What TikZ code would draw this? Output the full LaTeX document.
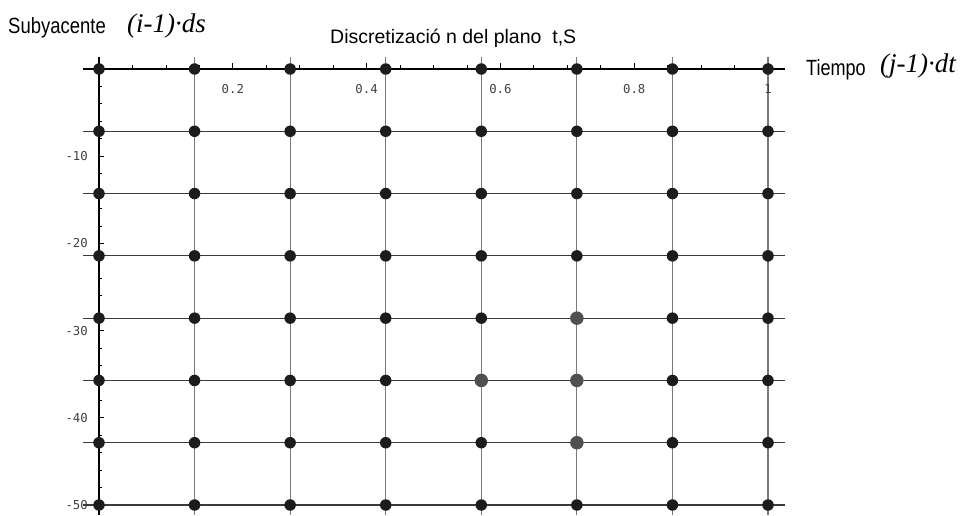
\documentclass[tikz,border=0pt]{standalone}
\usepackage{fontspec}
\setmainfont{Liberation Sans}
\newfontfamily\seriffam{Liberation Serif}
\newfontfamily\tickfam{DejaVu Sans Mono}
\definecolor{hline}{HTML}{3A3A3A}
\definecolor{vline}{HTML}{7A7A7A}
\definecolor{dotblack}{HTML}{1C1C1C}
\definecolor{dotgray}{HTML}{505050}
\definecolor{ticklab}{HTML}{404040}
\begin{document}
\begin{tikzpicture}[x=1pt,y=-1pt,
  dot/.style={circle,fill=dotblack,inner sep=0pt,minimum size=11.5pt},
  graydot/.style={circle,fill=dotgray,inner sep=0pt,minimum size=13.5pt},
  hgrid/.style={draw=hline,line width=1.1pt},
  vgrid/.style={draw=vline,line width=1.1pt},
  axisline/.style={draw=black,line width=1.1pt},
  tickmark/.style={draw=black,line width=0.8pt},
  ticklabel/.style={font=\tickfam\fontsize{12.3}{13}\selectfont,text=ticklab,inner sep=0pt},
  label/.style={font=\fontsize{22}{24}\selectfont,inner sep=0pt},
  italabel/.style={font=\seriffam\itshape\fontsize{27}{30}\selectfont,inner sep=0pt}
]
\useasboundingbox (0,0) rectangle (964,515);
% grid line end coordinates
\foreach \j in {0,...,7}{
  \pgfmathsetmacro{\yy}{69+\j*62.2857}
  \coordinate (hw-\j) at (83,\yy);
  \coordinate (he-\j) at (785,\yy);
}
\foreach \i in {0,...,7}{
  \pgfmathsetmacro{\xx}{99+\i*95.5714}
  \coordinate (vn-\i) at (\xx,57);
  \coordinate (vs-\i) at (\xx,515);
}
% vertical grid lines
\foreach \i in {1,...,7}{ \draw[vgrid] (vn-\i) -- (vs-\i); }
% horizontal grid lines
\foreach \j in {1,...,7}{ \draw[hgrid] (hw-\j) -- (he-\j); }
% axes
\draw[axisline] (hw-0) -- (he-0);
\draw[axisline] (vn-0) -- (vs-0);
% x ticks
\foreach \k in {1,...,20}{
  \pgfmathsetmacro{\xx}{99+\k*33.45}
  \pgfmathtruncatemacro{\m}{mod(\k,4)}
  \ifnum\m=0
    \draw[tickmark] (\xx,69) -- (\xx,63);
  \else
    \draw[tickmark] (\xx,69) -- (\xx,65);
  \fi
}
\foreach \k/\t in {4/0.2,8/0.4,12/0.6,16/0.8,20/1}{
  \node[ticklabel] (xl-\k) at ({99+\k*33.45},89) {\t};
}
% y ticks
\foreach \v in {2,4,...,50}{
  \pgfmathsetmacro{\yy}{69+\v*8.72}
  \pgfmathtruncatemacro{\m}{mod(\v,10)}
  \ifnum\m=0
    \draw[tickmark] (99,\yy) -- (104,\yy);
  \else
    \draw[tickmark] (99,\yy) -- (102,\yy);
  \fi
}
\foreach \v in {10,20,30,40,50}{
  \node[ticklabel,anchor=east] (yl-\v) at (88,{69+\v*8.72}) {-\v};
}
% dots
\foreach \i in {0,...,7}{
  \foreach \j in {0,...,7}{
    \node[dot] (d-\i-\j) at ({99+\i*95.5714},{69+\j*62.2857}) {};
  }
}
\node[graydot] (g-5-4) at (d-5-4) {};
\node[graydot] (g-4-5) at (d-4-5) {};
\node[graydot] (g-5-5) at (d-5-5) {};
\node[graydot] (g-5-6) at (d-5-6) {};
% labels
\node[label,anchor=base west] (sub) at (8,33) {\scalebox{0.84}[1]{Subyacente}};
\node[italabel,anchor=base west] (ids) at (127,32) {(i-1)·ds};
\node[font=\fontsize{19.5}{22}\selectfont,inner sep=0pt,anchor=base west] (title) at (330,43) {Discretizació n del plano \ t,S};
\node[label,anchor=base west] (tiempo) at (806,75) {\scalebox{0.82}[1]{Tiempo}};
\node[italabel,anchor=base west] (jdt) at (880,72) {(j-1)·dt};
\end{tikzpicture}
\end{document}
